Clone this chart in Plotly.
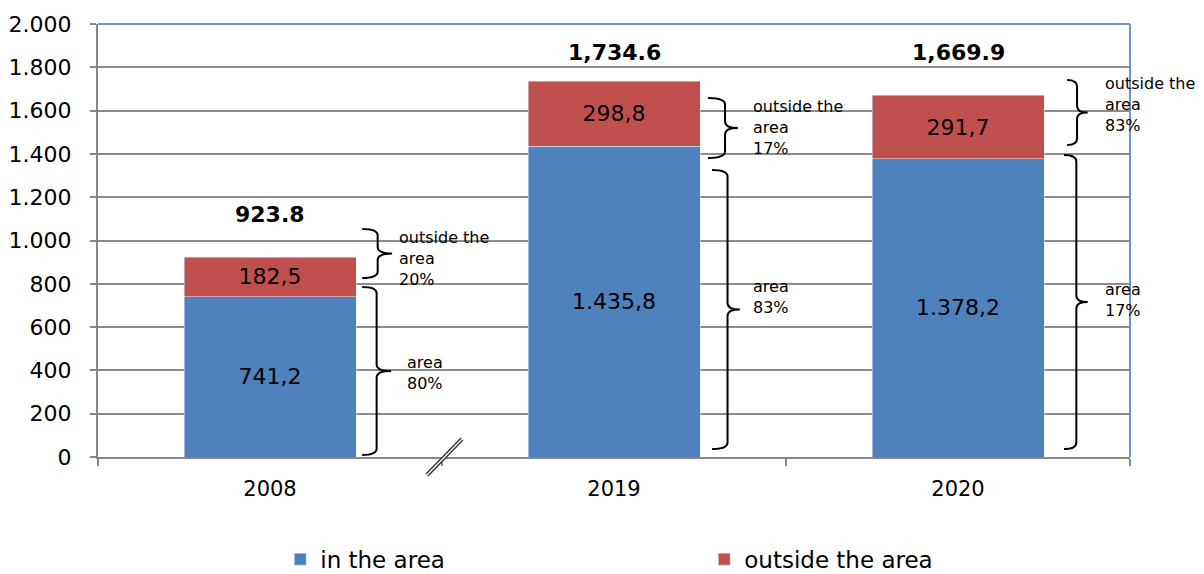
import plotly.graph_objects as go

years = ["2008", "2019", "2020"]
in_area = [741.2, 1435.8, 1378.2]
outside_area = [182.5, 298.8, 291.7]
totals = [923.8, 1734.6, 1669.9]
total_label_y = [1118, 1870, 1870]

# bracket annotations: x in paper units, y in data units
brace_texts = ["outside the<br>area<br>20%", "area<br>80%",
               "outside the<br>area<br>17%", "area<br>83%",
               "outside the<br>area<br>83%", "area<br>17%"]
brace_xl = [0.256, 0.256, 0.591, 0.595, 0.939, 0.936]
brace_xm = [0.271, 0.270, 0.6076, 0.610, 0.9487, 0.948]
brace_xt = [0.285, 0.284, 0.620, 0.622, 0.959, 0.959]
brace_top = [1053, 785, 1658, 1326, 1741, 1395]
brace_bot = [827, 9, 1381, 37, 1441, 37]
brace_tx = [0.290, 0.297, 0.633, 0.633, 0.974, 0.974]
brace_ty = [919, 388, 1524, 739, 1626, 725]

BLUE = "#4F81BD"
RED = "#C0504D"
FONT = "DejaVu Sans"


def eu(v):
    s = f"{v:,.1f}"
    return s.replace(",", "X").replace(".", ",").replace("X", ".")


fig = go.Figure()
fig.add_trace(go.Bar(x=years, y=in_area, name="in the area", marker_color=BLUE,
                     text=[eu(v) for v in in_area], textposition="inside",
                     insidetextanchor="middle", textangle=0,
                     textfont=dict(family=FONT, size=22, color="black")))
fig.add_trace(go.Bar(x=years, y=outside_area, name="outside the area", marker_color=RED,
                     text=[eu(v) for v in outside_area], textposition="inside",
                     insidetextanchor="middle", textangle=0,
                     textfont=dict(family=FONT, size=22, color="black")))

for i, (t, ty) in enumerate(zip(totals, total_label_y)):
    fig.add_annotation(x=i, y=ty, xref="x", yref="y", text=f"<b>{t:,.1f}</b>", showarrow=False,
                       font=dict(family=FONT, size=22, color="black"),
                       xanchor="center", yanchor="middle")

shapes = []
for txt, xl, xm, xt, yt, yb, tx, ty in zip(brace_texts, brace_xl, brace_xm, brace_xt,
                                           brace_top, brace_bot, brace_tx, brace_ty):
    ym = (yt + yb) / 2
    r = 30
    path = (f"M {xl},{yt} Q {xm},{yt} {xm},{yt - r} L {xm},{ym + r} "
            f"Q {xm},{ym} {xt},{ym} Q {xm},{ym} {xm},{ym - r} "
            f"L {xm},{yb + r} Q {xm},{yb} {xl},{yb}")
    shapes.append(dict(type="path", path=path, xref="paper", yref="y",
                       line=dict(color="black", width=2)))
    fig.add_annotation(x=tx, y=ty, xref="paper", yref="y", text=txt, showarrow=False,
                       xanchor="left", yanchor="middle", align="left",
                       font=dict(family=FONT, size=16, color="black"))

# plot border (top and right)
shapes.append(dict(type="line", xref="paper", yref="paper", x0=0, x1=1, y0=1, y1=1,
                   line=dict(color="#7096C8", width=2)))
shapes.append(dict(type="line", xref="paper", yref="paper", x0=1, x1=1, y0=0, y1=1,
                   line=dict(color="#7096C8", width=2)))
# axis break mark
shapes.append(dict(type="line", xref="paper", yref="paper", x0=0.3188, x1=0.3527,
                   y0=-0.0416, y1=0.0416, line=dict(color="#333333", width=4)))
shapes.append(dict(type="line", xref="paper", yref="paper", x0=0.3188, x1=0.3527,
                   y0=-0.0416, y1=0.0416, line=dict(color="white", width=1.3)))

fig.update_layout(
    barmode="stack", bargap=0.5, width=1196, height=566,
    margin=dict(l=90, r=74, t=16, b=117, autoexpand=False),
    plot_bgcolor="white", paper_bgcolor="white",
    separators=",.",
    font=dict(family=FONT, color="black"),
    shapes=shapes,
    legend=dict(orientation="h", x=0.1766, xanchor="left", y=-0.236, yanchor="middle",
                traceorder="normal",
                entrywidth=379, entrywidthmode="pixels",
                font=dict(family=FONT, size=23, color="black")),
    xaxis=dict(type="category", showline=True, linecolor="#878787", linewidth=2,
               ticks="outside", automargin=False,
               tickson="boundaries", ticklen=7, tickcolor="#878787", tickwidth=2,
               tickfont=dict(family=FONT, size=21, color="black"), ticklabelstandoff=12),
    yaxis=dict(range=[0, 2000], dtick=200, tickformat=",d", showline=True, automargin=False,
               linecolor="#878787", linewidth=2, ticks="outside", ticklen=6,
               tickcolor="#878787", tickwidth=2, showgrid=True, gridcolor="#8C8C8C",
               gridwidth=1.5, zeroline=False,
               tickfont=dict(family=FONT, size=22, color="black"), ticklabelstandoff=14),
)

fig.write_html("out.html")
